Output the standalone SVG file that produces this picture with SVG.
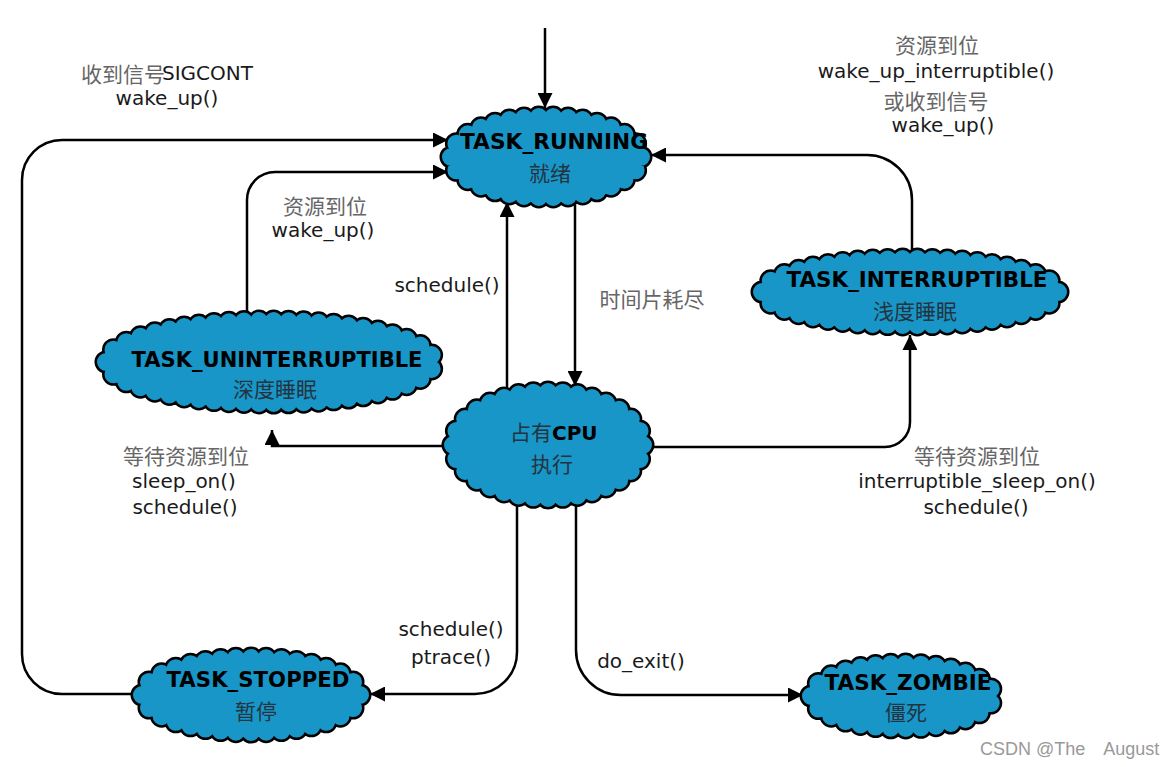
<svg xmlns="http://www.w3.org/2000/svg" width="1176" height="767" viewBox="0 0 1176 767">
<style>
.bg{fill:#fff}
.co{fill:none;stroke:#000;stroke-width:23;stroke-dasharray:0 1;stroke-linecap:round}
.ci{fill:#1896c8;stroke:#1896c8;stroke-width:18;stroke-dasharray:0 1;stroke-linecap:round}
.tt{font-family:"DejaVu Sans",sans-serif;font-weight:bold;font-size:21px;fill:#000;text-anchor:middle}
.nc{font-family:"Noto Sans CJK SC",sans-serif;font-size:21px;fill:#233440;text-anchor:middle}
.lb{font-family:"DejaVu Sans",sans-serif;font-size:20px;fill:#1a1a1a;text-anchor:middle}
.cn{font-family:"Noto Sans CJK SC",sans-serif;font-size:21px;fill:#666;text-anchor:middle}
.edge{fill:none;stroke:#000;stroke-width:2.5;marker-end:url(#ah)}
.wm{font-family:"Liberation Sans","Noto Sans CJK SC",sans-serif;font-size:18px;fill:#999}
</style>
<defs>
<marker id="ah" viewBox="0 0 10 10" refX="10" refY="5" markerWidth="6" markerHeight="6" orient="auto"><path d="M0,0 L10,5 L0,10 z" fill="#000"/></marker>
</defs>
<rect class="bg" x="0" y="0" width="1176" height="767"/>
<g id="connectors">
<path class="edge" d="M545,28 V108"/>
<path class="edge" d="M133,694 H62 A40,40 0 0 1 22,654 V180 A40,40 0 0 1 62,140 H448"/>
<path class="edge" d="M247,314 V200 A28,28 0 0 1 275,172 H448"/>
<path class="edge" d="M507,392 V202"/>
<path class="edge" d="M575,200 V386"/>
<path class="edge" d="M912,252 V200 A45,45 0 0 0 867,155 H651"/>
<path class="edge" d="M648,447 H885 A25,25 0 0 0 910,422 V335"/>
<path class="edge" d="M451,446 H272 V430"/>
<path class="edge" d="M517,500 V652 A42,42 0 0 1 475,694 H370"/>
<path class="edge" d="M576,500 V650 A45,45 0 0 0 621,695 H803"/>
</g>
<g id="labels">
<text class="cn" x="81" y="82" style="text-anchor:start">收到信号</text>
<text class="lb" x="162" y="80" style="text-anchor:start">SIGCONT</text>
<text class="lb" x="167" y="105">wake_up()</text>
<text class="cn" x="937" y="53">资源到位</text>
<text class="lb" x="936" y="78">wake_up_interruptible()</text>
<text class="cn" x="936" y="109">或收到信号</text>
<text class="lb" x="943" y="132">wake_up()</text>
<text class="cn" x="325" y="214">资源到位</text>
<text class="lb" x="323" y="237">wake_up()</text>
<text class="lb" x="447" y="292">schedule()</text>
<text class="cn" x="652" y="307">时间片耗尽</text>
<text class="cn" x="186" y="464">等待资源到位</text>
<text class="lb" x="184" y="488">sleep_on()</text>
<text class="lb" x="185" y="514">schedule()</text>
<text class="cn" x="977" y="464">等待资源到位</text>
<text class="lb" x="977" y="488">interruptible_sleep_on()</text>
<text class="lb" x="976" y="514">schedule()</text>
<text class="lb" x="451" y="636">schedule()</text>
<text class="lb" x="451" y="664">ptrace()</text>
<text class="lb" x="641" y="668">do_exit()</text>
<text class="wm" x="980" y="755">CSDN @The　August</text>
</g>
<g id="node-running">
<path class="co" pathLength="30" d="M451,157 A95,40 0 1 1 641,157 A95,40 0 1 1 451,157Z"/>
<path class="ci" pathLength="30" d="M451,157 A95,40 0 1 1 641,157 A95,40 0 1 1 451,157Z"/>
<text class="tt" x="554" y="149" textLength="188" lengthAdjust="spacingAndGlyphs">TASK_RUNNING</text>
<text class="nc" x="550" y="181">就绪</text>
</g>
<g id="node-uninterruptible">
<path class="co" pathLength="47" d="M106,362 A164,41 0 1 1 434,362 A164,41 0 1 1 106,362Z"/>
<path class="ci" pathLength="47" d="M106,362 A164,41 0 1 1 434,362 A164,41 0 1 1 106,362Z"/>
<text class="tt" x="277" y="367" textLength="291" lengthAdjust="spacingAndGlyphs">TASK_UNINTERRUPTIBLE</text>
<text class="nc" x="275" y="397">深度睡眠</text>
</g>
<g id="node-cpu">
<path class="co" pathLength="32" d="M453,445 A95,53 0 1 1 643,445 A95,53 0 1 1 453,445Z"/>
<path class="ci" pathLength="32" d="M453,445 A95,53 0 1 1 643,445 A95,53 0 1 1 453,445Z"/>
<text x="510" y="440" style="font-size:20px"><tspan style="font-family:'Noto Sans CJK SC',sans-serif;fill:#233440;font-size:21px">占有</tspan><tspan style="font-family:'DejaVu Sans',sans-serif;font-weight:bold;fill:#000">CPU</tspan></text>
<text class="nc" x="552" y="472">执行</text>
</g>
<g id="node-interruptible">
<path class="co" pathLength="42" d="M762,292 A148,33 0 1 1 1058,292 A148,33 0 1 1 762,292Z"/>
<path class="ci" pathLength="42" d="M762,292 A148,33 0 1 1 1058,292 A148,33 0 1 1 762,292Z"/>
<text class="tt" x="917" y="287" textLength="261" lengthAdjust="spacingAndGlyphs">TASK_INTERRUPTIBLE</text>
<text class="nc" x="915" y="319">浅度睡眠</text>
</g>
<g id="node-stopped">
<path class="co" pathLength="32" d="M142,695 A109,37 0 1 1 360,695 A109,37 0 1 1 142,695Z"/>
<path class="ci" pathLength="32" d="M142,695 A109,37 0 1 1 360,695 A109,37 0 1 1 142,695Z"/>
<text class="tt" x="258" y="687" textLength="183" lengthAdjust="spacingAndGlyphs">TASK_STOPPED</text>
<text class="nc" x="256" y="719">暂停</text>
</g>
<g id="node-zombie">
<path class="co" pathLength="27" d="M811,696 A91,32 0 1 1 993,696 A91,32 0 1 1 811,696Z"/>
<path class="ci" pathLength="27" d="M811,696 A91,32 0 1 1 993,696 A91,32 0 1 1 811,696Z"/>
<text class="tt" x="908" y="690" textLength="167" lengthAdjust="spacingAndGlyphs">TASK_ZOMBIE</text>
<text class="nc" x="906" y="720">僵死</text>
</g>
</svg>
